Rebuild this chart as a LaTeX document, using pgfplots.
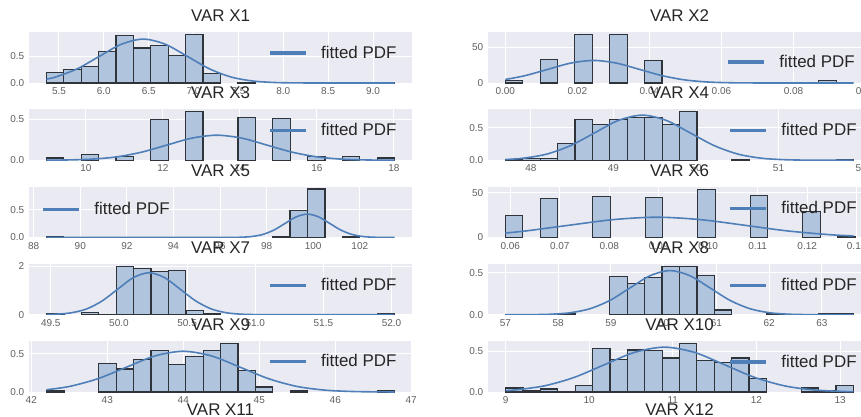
\documentclass[border=0pt]{standalone}
\usepackage{fontspec}
\setmainfont{Liberation Sans}
\usepackage{pgfplots}
\pgfplotsset{compat=1.18}

\definecolor{bgc}{HTML}{EAEAF2}
\definecolor{barc}{HTML}{B0C4DE}
\definecolor{edgec}{HTML}{2F333A}
\definecolor{linec}{HTML}{4F7FB8}
\definecolor{txtc}{HTML}{262626}
\definecolor{tickc}{HTML}{5F5F5F}

\pgfplotsset{
  hst/.style={
    scale only axis, width=287.25pt, height=38.25pt, anchor=north west,
    axis background/.style={fill=bgc},
    axis line style={draw=none},
    major tick length=0pt,
    grid=major, grid style={white, line width=0.75pt},
    ymin=0, scaled ticks=false,
    tick label style={font=\fontsize{7.5}{8.5}\selectfont, text=tickc},
    /pgf/number format/assume math mode=true,
    title style={font=\fontsize{12.7}{14}\selectfont, text=txtc, at={(0.5,1)}, anchor=south, inner sep=1.5pt},
    legend style={draw=none, fill=none, font=\fontsize{12.7}{14}\selectfont, text=txtc,
      anchor=west, inner sep=0pt, outer sep=0pt, nodes={inner sep=0pt},
      /tikz/every odd column/.append style={column sep=11.25pt}},
    legend image code/.code={\fill[linec] (0pt,-0.7pt) rectangle (26pt,0.7pt);},
  },
  bars/.style={ybar, bar shift=0pt, bar width=#1, fill=barc, draw=edgec, line width=0.9pt, forget plot},
  pdf/.style={color=linec, line width=1.2pt, smooth},
}

\begin{document}
\begin{tikzpicture}

% ---- row 1
\begin{axis}[hst, at={(21.75pt,-24pt)}, title={VAR X1},
  xmin=5.166, xmax=9.434, ymax=0.945,
  xtick={5.5,6,6.5,7,7.5,8,8.5,9}, xticklabels={5.5,6.0,6.5,7.0,7.5,8.0,8.5,9.0},
  ytick={0,0.5}, yticklabels={0.0,0.5},
  legend style={at={(0.629,0.588)}}]
\addplot[bars=0.194] coordinates {(5.457,0.20) (5.651,0.25) (5.845,0.31) (6.039,0.59) (6.233,0.88) (6.427,0.65) (6.621,0.69) (6.815,0.51) (7.009,0.90) (7.203,0.17) (7.591,0.012) (8.561,0.012) (9.143,0.012)};
\addplot[pdf] coordinates {(5.36,0.072) (5.46,0.110) (5.705,0.264) (5.95,0.494) (6.195,0.718) (6.44,0.814) (6.685,0.718) (6.93,0.494) (7.175,0.264) (7.42,0.110) (7.665,0.036) (7.91,0.009) (8.155,0.002) (8.4,0.0003) (9.24,0)};
\addlegendentry{fitted PDF}
\end{axis}

\begin{axis}[hst, at={(366pt,-24pt)}, title={VAR X2},
  xmin=-0.0048, xmax=0.1015, ymax=71,
  xtick={0,0.02,0.04,0.06,0.08,0.1}, xticklabels={0.00,0.02,0.04,0.06,0.08,0.10},
  ytick={0,50}, yticklabels={0,50},
  legend style={at={(0.627,0.41)}}]
\addplot[bars=0.00483] coordinates {(0.0024,3.7) (0.0121,33) (0.0217,67.6) (0.0314,67.6) (0.0411,31.5) (0.0894,3.7)};
\addplot[pdf] coordinates {(0,4.9) (0.00545,10.2) (0.0118,19.0) (0.01815,27.7) (0.0245,31.4) (0.03085,27.7) (0.0372,19.0) (0.04355,10.2) (0.0499,4.25) (0.05625,1.38) (0.0626,0.35) (0.06895,0.07) (0.0753,0.01) (0.0967,0)};
\addlegendentry{fitted PDF}
\end{axis}

% ---- row 2
\begin{axis}[hst, at={(21.75pt,-81.94pt)}, title={VAR X3},
  xmin=8.52, xmax=18.47, ymax=0.625,
  xtick={10,12,14,16,18},
  ytick={0,0.5}, yticklabels={0.0,0.5},
  legend style={at={(0.629,0.588)}}]
\addplot[bars=0.4525] coordinates {(9.196,0.028) (10.101,0.067) (11.006,0.05) (11.911,0.496) (12.816,0.595) (14.174,0.52) (15.079,0.508) (15.984,0.05) (16.889,0.044) (17.794,0.028)};
\addplot[pdf] coordinates {(8.97,0.0009) (9.5,0.0034) (10.15,0.0135) (10.8,0.0415) (11.45,0.0997) (12.1,0.186) (12.75,0.271) (13.4,0.307) (14.05,0.271) (14.7,0.186) (15.35,0.0997) (16.0,0.0415) (16.65,0.0135) (17.3,0.0034) (18.02,0.0006)};
\addlegendentry{fitted PDF}
\end{axis}

\begin{axis}[hst, at={(366pt,-81.94pt)}, title={VAR X4},
  xmin=47.48, xmax=52.12, ymax=0.78,
  xtick={48,49,50,51,52},
  ytick={0,0.5}, yticklabels={0.0,0.5},
  legend style={at={(0.632,0.588)}}]
\addplot[bars=0.211] coordinates {(47.796,0.013) (48.007,0.026) (48.218,0.026) (48.429,0.253) (48.64,0.624) (48.851,0.55) (49.062,0.624) (49.273,0.655) (49.484,0.655) (49.695,0.55) (49.906,0.742) (50.539,0.013) (51.805,0.013)};
\addplot[pdf] coordinates {(47.69,0.0115) (47.9,0.0303) (48.19,0.0934) (48.48,0.224) (48.77,0.418) (49.06,0.609) (49.35,0.69) (49.64,0.609) (49.93,0.418) (50.22,0.224) (50.51,0.0934) (50.8,0.0303) (51.09,0.0077) (51.38,0.0015) (51.67,0.0002) (51.91,0)};
\addlegendentry{fitted PDF}
\end{axis}

% ---- row 3
\begin{axis}[hst, at={(21.75pt,-139.88pt)}, title={VAR X5},
  xmin=87.8, xmax=104.24, ymax=0.915,
  xtick={88,90,92,94,96,98,100,102},
  ytick={0,0.5}, yticklabels={0.0,0.5},
  legend style={at={(0.037,0.55)}}]
\addplot[bars=0.747] coordinates {(88.92,0.01) (98.63,0.02) (99.38,0.48) (100.13,0.87) (101.62,0.01)};
\addplot[pdf] coordinates {(88.55,0) (95.475,0) (96.425,0.0009) (96.9,0.0047) (97.375,0.0184) (97.85,0.0568) (98.325,0.136) (98.8,0.255) (99.275,0.371) (99.75,0.42) (100.225,0.371) (100.7,0.255) (101.175,0.136) (101.65,0.0568) (102.125,0.0184) (102.6,0.0047) (103.075,0.0009) (103.49,0)};
\addlegendentry{fitted PDF}
\end{axis}

\begin{axis}[hst, at={(366pt,-139.88pt)}, title={VAR X6},
  xmin=0.0555, xmax=0.1329, ymax=57,
  xtick={0.06,0.07,0.08,0.09,0.10,0.11,0.12,0.13}, xticklabels={0.06,0.07,0.08,0.09,0.10,0.11,0.12,0.13},
  ytick={0,50}, yticklabels={0,50},
  legend style={at={(0.632,0.57)}}]
\addplot[bars=0.003535] coordinates {(0.06077,25) (0.06784,43.7) (0.07845,45.5) (0.08905,44.8) (0.09966,54.1) (0.11026,47) (0.12087,29.5) (0.12794,1.5)};
\addplot[pdf] coordinates {(0.059,5.0) (0.0632,7.37) (0.072,13.8) (0.0808,20.0) (0.0896,22.7) (0.0984,20.0) (0.1072,13.8) (0.116,7.37) (0.1248,3.07) (0.1294,1.77)};
\addlegendentry{fitted PDF}
\end{axis}

% ---- row 4
\begin{axis}[hst, at={(21.75pt,-197.81pt)}, title={VAR X7},
  xmin=49.34, xmax=52.15, ymax=2.1,
  xtick={49.5,50,50.5,51,51.5,52}, xticklabels={49.5,50.0,50.5,51.0,51.5,52.0},
  ytick={0,2}, yticklabels={0,2},
  legend style={at={(0.629,0.575)}}]
\addplot[bars=0.1276] coordinates {(49.534,0.03) (49.789,0.1) (49.917,0.02) (50.044,2.0) (50.172,1.92) (50.299,1.78) (50.427,1.82) (50.555,0.16) (50.682,0.03) (51.958,0.03)};
\addplot[pdf] coordinates {(49.47,0.0085) (49.53,0.0192) (49.645,0.076) (49.76,0.234) (49.875,0.562) (49.99,1.049) (50.105,1.527) (50.22,1.73) (50.335,1.527) (50.45,1.049) (50.565,0.562) (50.68,0.234) (50.795,0.076) (50.91,0.0192) (51.025,0.0038) (51.14,0.0006) (52.02,0)};
\addlegendentry{fitted PDF}
\end{axis}

\begin{axis}[hst, at={(366pt,-197.81pt)}, title={VAR X8},
  xmin=56.67, xmax=63.93, ymax=0.606,
  xtick={57,58,59,60,61,62,63},
  ytick={0,0.5}, yticklabels={0.0,0.5},
  legend style={at={(0.632,0.575)}}]
\addplot[bars=0.33] coordinates {(57.165,0.005) (58.155,0.01) (59.145,0.457) (59.475,0.367) (59.805,0.443) (60.135,0.577) (60.465,0.577) (60.795,0.463) (61.125,0.057) (62.115,0.015) (63.105,0.01) (63.435,0.01)};
\addplot[pdf] coordinates {(57.0,0) (57.46,0.0012) (57.84,0.0058) (58.22,0.023) (58.6,0.071) (58.98,0.17) (59.36,0.318) (59.74,0.463) (60.12,0.525) (60.5,0.463) (60.88,0.318) (61.26,0.17) (61.64,0.071) (62.02,0.023) (62.4,0.0058) (62.78,0.0012) (63.16,0.0002) (63.6,0)};
\addlegendentry{fitted PDF}
\end{axis}

% ---- row 5
\begin{axis}[hst, at={(21.75pt,-255.75pt)}, title={VAR X9},
  xmin=41.97, xmax=47.01, ymax=0.666,
  xtick={42,43,44,45,46,47},
  ytick={0,0.5}, yticklabels={0.0,0.5},
  legend style={at={(0.629,0.594)}}]
\addplot[bars=0.229] coordinates {(42.315,0.012) (43.002,0.372) (43.231,0.30) (43.46,0.424) (43.689,0.547) (43.918,0.363) (44.147,0.468) (44.376,0.547) (44.605,0.634) (44.834,0.284) (45.063,0.066) (45.521,0.012) (46.666,0.012)};
\addplot[pdf] coordinates {(42.2,0.030) (42.5,0.072) (42.875,0.173) (43.25,0.323) (43.625,0.47) (44.0,0.532) (44.375,0.47) (44.75,0.323) (45.125,0.173) (45.5,0.072) (45.875,0.0234) (46.25,0.0059) (46.625,0.0012) (46.78,0.0005)};
\addlegendentry{fitted PDF}
\end{axis}

\begin{axis}[hst, at={(366pt,-255.75pt)}, title={VAR X10},
  xmin=8.79, xmax=13.37, ymax=0.63,
  xtick={9,10,11,12,13},
  ytick={0,0.5}, yticklabels={0.0,0.5},
  legend style={at={(0.632,0.59)}}]
\addplot[bars=0.208] coordinates {(9.104,0.05) (9.312,0.02) (9.52,0.037) (9.728,0.01) (9.936,0.078) (10.144,0.54) (10.352,0.40) (10.56,0.52) (10.768,0.51) (10.976,0.42) (11.184,0.60) (11.392,0.39) (11.6,0.36) (11.808,0.42) (12.016,0.17) (12.64,0.05) (12.848,0.02) (13.056,0.078)};
\addplot[pdf] coordinates {(9.0,0.017) (9.1,0.024) (9.46,0.075) (9.82,0.18) (10.18,0.336) (10.54,0.489) (10.9,0.554) (11.26,0.489) (11.62,0.336) (11.98,0.18) (12.34,0.075) (12.7,0.024) (13.06,0.0062) (13.16,0.0043)};
\addlegendentry{fitted PDF}
\end{axis}

% titles of the next row, cut off by the frame
\node[anchor=south, inner sep=1.5pt, font=\fontsize{12.7}{14}\selectfont, text=txtc] at (165.375pt,-313.69pt) {VAR X11};
\node[anchor=south, inner sep=1.5pt, font=\fontsize{12.7}{14}\selectfont, text=txtc] at (509.625pt,-313.69pt) {VAR X12};

\pgfresetboundingbox
\path[use as bounding box] (0pt,0pt) rectangle (645.75pt,-312.75pt);
\end{tikzpicture}
\end{document}
